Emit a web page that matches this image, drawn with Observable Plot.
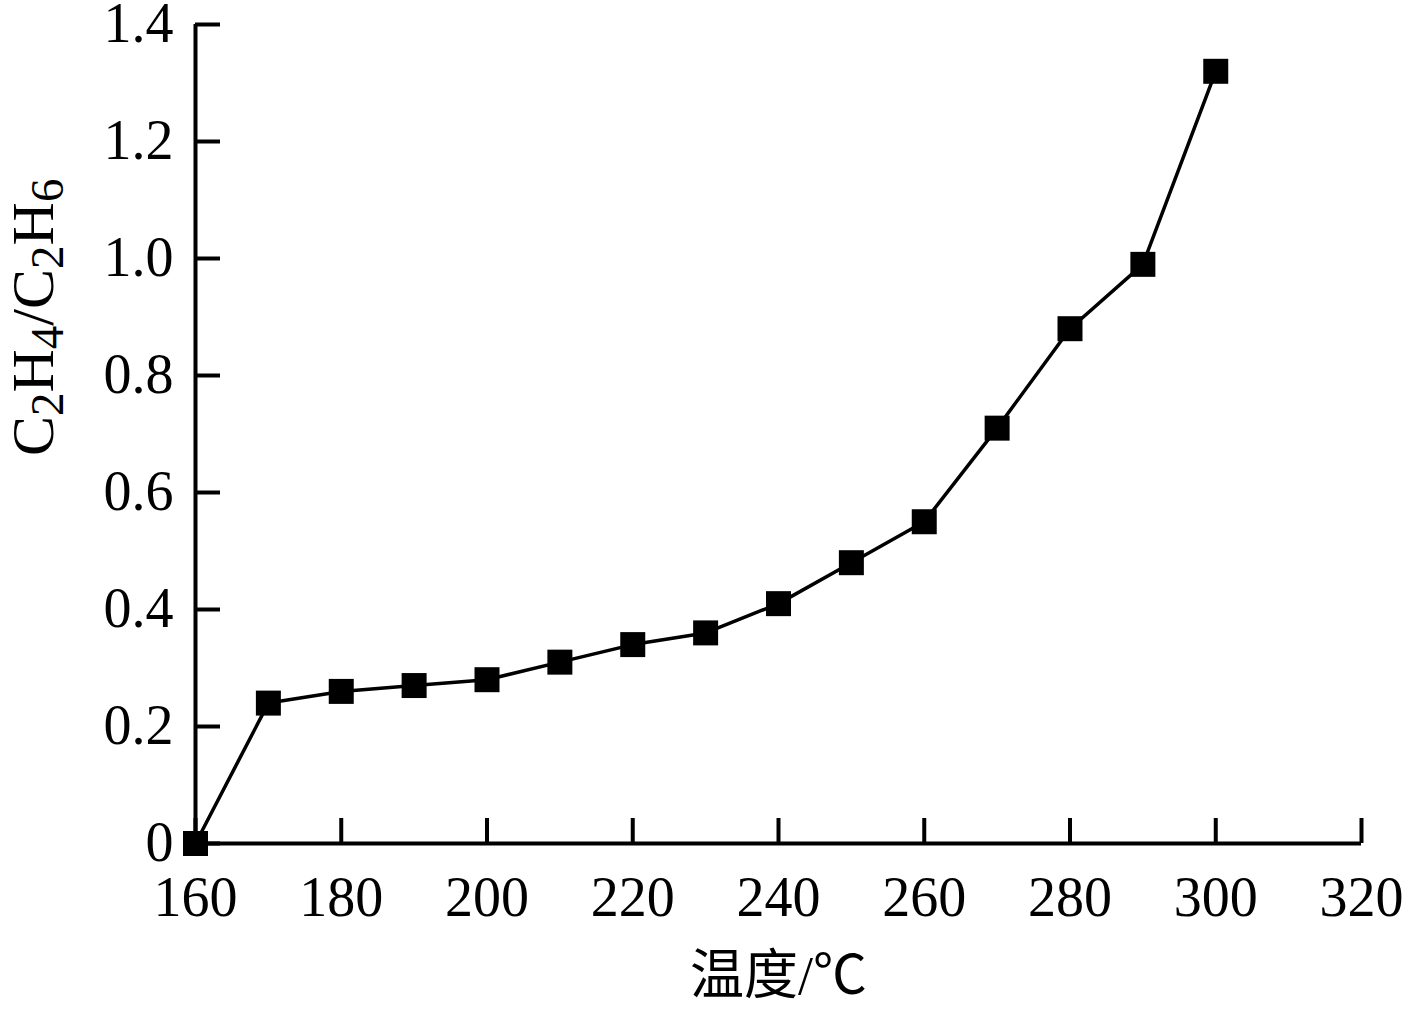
<!DOCTYPE html>
<html><head><meta charset="utf-8">
<script src="https://cdn.jsdelivr.net/npm/d3@7"></script>
<script src="https://cdn.jsdelivr.net/npm/@observablehq/plot@0.6"></script>
<style>body{margin:0;background:#fff} svg{display:block}</style>
</head><body><div id="chart"></div>
<script>
const temperature = [160, 170, 180, 190, 200, 210, 220, 230, 240, 250, 260, 270, 280, 290, 300];
const ratio = [0, 0.24, 0.26, 0.27, 0.28, 0.31, 0.34, 0.36, 0.41, 0.48, 0.55, 0.71, 0.88, 0.99, 1.32];
const xTicks = [160, 180, 200, 220, 240, 260, 280, 300, 320];
const yTicks = [0, 0.2, 0.4, 0.6, 0.8, 1.0, 1.2, 1.4];
const xLabel = "温度/℃";
const yLabel = "C2H4/C2H6";
const yLabelParts = [["C", false], ["2", true], ["H", false], ["4", true], ["/C", false], ["2", true], ["H", false], ["6", true]];

const data = temperature.map((t, i) => ({t, r: ratio[i]}));
const serif = "'Liberation Serif','Times New Roman','Noto Sans CJK SC',serif";

const plot = Plot.plot({
  width: 1407, height: 1009,
  marginLeft: 195, marginRight: 46, marginTop: 24, marginBottom: 166,
  style: {fontFamily: serif, fontSize: "56px", color: "#000", background: "#fff", overflow: "visible"},
  x: {domain: [160, 320]},
  y: {domain: [0, 1.4]},
  marks: [
    Plot.axisX({ticks: xTicks, tickSize: -25, tickPadding: 58, strokeWidth: 4, fontSize: 56, label: null, tickFormat: d => String(d)}),
    Plot.axisY({ticks: yTicks, tickSize: -25, tickPadding: 47, strokeWidth: 4, fontSize: 56, label: null, tickFormat: d => d === 0 ? "0" : d.toFixed(1)}),
    Plot.ruleY([0], {stroke: "#000", strokeWidth: 4}),
    Plot.ruleX([160], {stroke: "#000", strokeWidth: 4}),
    Plot.line(data, {x: "t", y: "r", stroke: "#000", strokeWidth: 3.5}),
    Plot.dot(data, {x: "t", y: "r", symbol: "square", r: 14.1, fill: "#000", stroke: "none"}),
    Plot.text([xLabel], {frameAnchor: "bottom", lineAnchor: "bottom", dy: 150, fontSize: 54, fill: "#000", fontFamily: serif}),
    Plot.text([yLabel], {frameAnchor: "left", lineAnchor: "bottom", rotate: -90, dx: -143, dy: 22, fontSize: 60, fill: "#000", fontFamily: serif})
  ]
});

d3.select(plot).selectAll("text").filter(function() { return this.textContent === yLabel; }).each(function() {
  const t = d3.select(this);
  t.text(null);
  let prevSub = false;
  yLabelParts.forEach(([s, sub]) => {
    const ts = t.append("tspan").text(s);
    if (sub && !prevSub) ts.attr("dy", "10").attr("font-size", 47);
    else if (sub) ts.attr("font-size", 47);
    else if (!sub && prevSub) ts.attr("dy", "-10");
    prevSub = sub;
  });
});

document.getElementById("chart").appendChild(plot);
</script>
</body></html>
